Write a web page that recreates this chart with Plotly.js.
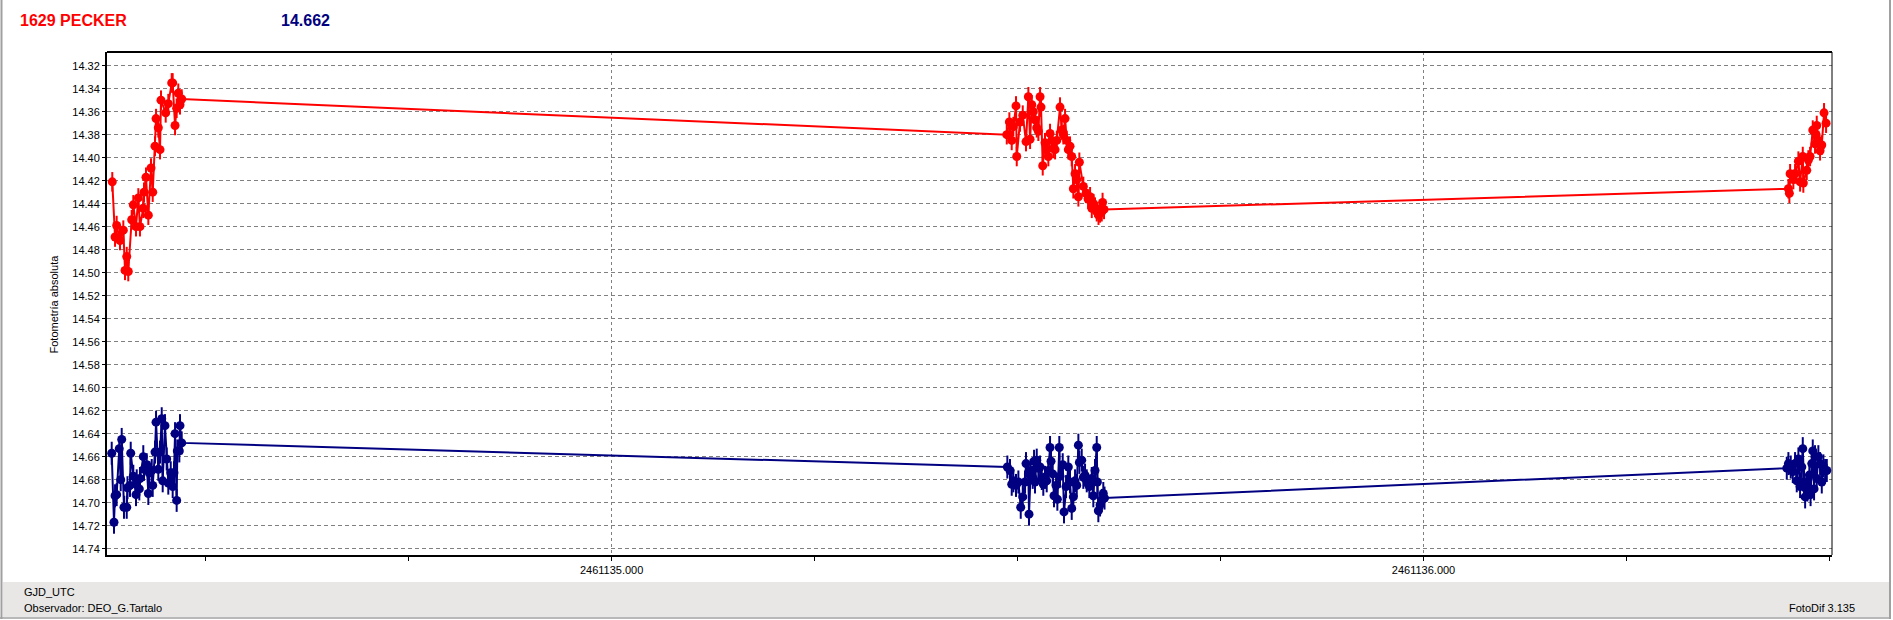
<!DOCTYPE html>
<html>
<head>
<meta charset="utf-8">
<script src="https://cdn.plot.ly/plotly-3.0.1.min.js"></script>
<style>
html,body{margin:0;padding:0;background:#fff;}
#chart{width:1893px;height:620px;}
</style>
</head>
<body>
<div id="chart"></div>
<script>
// Base Julian date (GJD_UTC); times below are day fractions after it
const JD0 = 2461134;

// Target star (red) - times and magnitudes
const redT = [
  0.3850,0.3884,0.3904,0.3945,0.3986,0.4007,0.4028,0.4047,0.4089,0.4109,
  0.4142,0.4171,0.4191,0.4232,0.4241,0.4265,0.4294,0.4327,0.4348,0.4376,
  0.4389,0.4417,0.4438,0.4450,0.4508,0.4540,0.4582,0.4594,0.4623,0.4643,
  0.4663,0.4684,0.4705,
  1.4867,1.4899,1.4928,1.4948,1.4981,1.4990,1.5030,1.5064,1.5104,1.5133,
  1.5154,1.5175,1.5194,1.5215,1.5236,1.5256,1.5277,1.5289,1.5310,1.5338,
  1.5359,1.5379,1.5400,1.5421,1.5441,1.5462,1.5483,1.5523,1.5544,1.5564,
  1.5585,1.5606,1.5625,1.5646,1.5667,1.5687,1.5708,1.5729,1.5749,1.5761,
  1.5810,1.5843,1.5868,1.5893,1.5914,1.5936,1.5954,1.5975,1.5997,1.6016,
  1.6037,1.6047,1.6065,
  2.4494,2.4506,2.4515,2.4555,2.4576,2.4617,2.4638,2.4671,2.4678,2.4720,
  2.4740,2.4761,2.4794,2.4822,2.4835,2.4843,2.4863,2.4884,2.4905,2.4933,
  2.4958
];
const redMag = [
  14.421,14.469,14.459,14.472,14.463,14.498,14.486,14.499,14.454,14.441,
  14.460,14.435,14.460,14.444,14.430,14.417,14.450,14.409,14.430,14.390,
  14.366,14.374,14.393,14.350,14.361,14.353,14.335,14.335,14.372,14.357,
  14.344,14.354,14.349,
  14.380,14.369,14.385,14.373,14.355,14.399,14.369,14.363,14.386,14.347,
  14.384,14.354,14.360,14.367,14.374,14.377,14.347,14.356,14.407,14.387,
  14.393,14.399,14.379,14.385,14.392,14.393,14.385,14.356,14.376,14.380,
  14.366,14.385,14.393,14.390,14.399,14.427,14.414,14.419,14.434,14.404,
  14.425,14.431,14.436,14.434,14.444,14.440,14.443,14.447,14.450,14.448,
  14.447,14.439,14.445,
  14.427,14.431,14.414,14.419,14.414,14.403,14.421,14.399,14.422,14.411,
  14.402,14.399,14.376,14.388,14.380,14.372,14.385,14.394,14.389,14.361,
  14.370
];

// Check star (navy) - times and magnitudes
const blueT = [
  0.3843,0.3871,0.3884,0.3904,0.3936,0.3954,0.3966,0.3994,0.4028,0.4037,
  0.4068,0.4077,0.4109,0.4142,0.4151,0.4183,0.4191,0.4232,0.4241,0.4274,
  0.4294,0.4306,0.4336,0.4348,0.4376,0.4389,0.4417,0.4438,0.4459,0.4471,
  0.4499,0.4520,0.4540,0.4570,0.4594,0.4610,0.4623,0.4643,0.4651,0.4676,
  0.4684,0.4705,
  1.4874,1.4907,1.4928,1.4948,1.4981,1.5010,1.5039,1.5064,1.5092,1.5104,
  1.5133,1.5141,1.5162,1.5187,1.5203,1.5215,1.5236,1.5256,1.5277,1.5298,
  1.5317,1.5338,1.5359,1.5379,1.5400,1.5412,1.5433,1.5449,1.5474,1.5490,
  1.5514,1.5523,1.5556,1.5572,1.5597,1.5625,1.5646,1.5667,1.5687,1.5708,
  1.5729,1.5749,1.5761,1.5790,1.5810,1.5831,1.5852,1.5884,1.5914,1.5933,
  1.5954,1.5975,1.5983,1.5995,1.6016,1.6037,1.6056,1.6071,
  2.4474,2.4494,2.4523,2.4548,2.4576,2.4597,2.4617,2.4638,2.4659,2.4671,
  2.4687,2.4700,2.4712,2.4728,2.4752,2.4767,2.4782,2.4794,2.4810,2.4822,
  2.4843,2.4863,2.4884,2.4905,2.4925,2.4946,2.4967
];
const blueMag = [
  14.657,14.717,14.694,14.693,14.653,14.680,14.645,14.704,14.704,14.687,
  14.685,14.657,14.677,14.693,14.681,14.688,14.679,14.660,14.671,14.667,
  14.692,14.674,14.672,14.685,14.656,14.630,14.671,14.656,14.627,14.681,
  14.633,14.662,14.683,14.674,14.686,14.674,14.640,14.698,14.655,14.655,
  14.633,14.648,
  14.669,14.672,14.684,14.681,14.685,14.682,14.704,14.695,14.682,14.666,
  14.675,14.710,14.672,14.678,14.664,14.682,14.663,14.670,14.669,14.679,
  14.684,14.678,14.681,14.672,14.652,14.664,14.675,14.694,14.685,14.697,
  14.652,14.677,14.667,14.708,14.686,14.669,14.682,14.705,14.695,14.681,
  14.685,14.650,14.665,14.663,14.678,14.676,14.681,14.686,14.679,14.694,
  14.672,14.652,14.682,14.707,14.702,14.698,14.692,14.696,
  14.670,14.666,14.669,14.673,14.666,14.681,14.662,14.686,14.669,14.653,
  14.682,14.695,14.688,14.689,14.676,14.693,14.666,14.655,14.688,14.660,
  14.679,14.660,14.666,14.682,14.668,14.672,14.672
];

const redErr = 0.0085;
const blueErr = 0.010;

const titleLeft = '1629 PECKER';
const titleRight = '14.662';
const yTitle = 'Fotometría absoluta';
const xName = 'GJD_UTC';
const observer = 'Observador: DEO_G.Tartalo';
const software = 'FotoDif 3.135';

const RED = '#ff0000', NAVY = '#000080';
const FONT = 'Liberation Sans, Arial, sans-serif';

function mkTrace(t, m, err, color) {
  return {
    type: 'scatter', mode: 'lines+markers',
    x: t.map(v => JD0 + v), y: m,
    line: {color: color, width: 2},
    marker: {color: color, size: 9, symbol: 'circle'},
    error_y: {type: 'constant', value: err, color: color, thickness: 2, width: 0},
    hoverinfo: 'skip', showlegend: false
  };
}

const data = [mkTrace(redT, redMag, redErr, RED), mkTrace(blueT, blueMag, blueErr, NAVY)];

// pixel -> paper helpers for decoration (plot area: x 107..1832, y 52..555)
const L = 107, R = 61, T = 52, B = 65, W = 1893 - L - R, H = 620 - T - B;
const px = x => (x - L) / W;
const py = y => (620 - B - y) / H;

const layout = {
  width: 1893, height: 620,
  margin: {l: L, r: R, t: T, b: B, pad: 0},
  paper_bgcolor: '#ffffff', plot_bgcolor: '#ffffff',
  font: {family: FONT, size: 11, color: '#000'},
  showlegend: false, hovermode: false,
  xaxis: {
    range: [2461134.3785, 2461136.5031],
    tick0: 2461135, dtick: 1, tickformat: '.3f',
    ticks: 'outside', ticklen: 4, tickcolor: '#000', tickwidth: 1,
    showline: true, linecolor: '#000', linewidth: 2,
    showgrid: true, gridcolor: '#808080', gridwidth: 1, griddash: '3px,3px',
    zeroline: false,
    tickfont: {family: FONT, size: 11, color: '#000'},
    minor: {dtick: 0.25, tick0: 2461135, ticks: 'outside', ticklen: 4, tickcolor: '#000', showgrid: false}
  },
  yaxis: {
    range: [14.7455, 14.3081],
    tick0: 14.32, dtick: 0.02, tickformat: '.2f',
    ticks: 'outside', ticklen: 3, tickcolor: '#000',
    showline: true, linecolor: '#000', linewidth: 2,
    showgrid: true, gridcolor: '#808080', gridwidth: 1, griddash: '4px,3px',
    zeroline: false,
    tickfont: {family: FONT, size: 11, color: '#000'}
  },
  shapes: [
    {type: 'rect', xref: 'paper', yref: 'paper', x0: px(3), x1: px(1889), y0: py(582), y1: py(617),
     fillcolor: '#e8e7e5', line: {width: 0}, layer: 'below'},
    {type: 'line', xref: 'paper', yref: 'paper', x0: px(1.5), x1: px(1.5), y0: py(0), y1: py(619),
     line: {color: '#a0a0a0', width: 2}},
    {type: 'line', xref: 'paper', yref: 'paper', x0: px(1890), x1: px(1890), y0: py(0), y1: py(619),
     line: {color: '#a0a0a0', width: 2}},
    {type: 'line', xref: 'paper', yref: 'paper', x0: px(0), x1: px(1891), y0: py(618), y1: py(618),
     line: {color: '#a0a0a0', width: 1.5}},
    {type: 'line', xref: 'paper', yref: 'paper', x0: 0, x1: 1, y0: 1, y1: 1,
     line: {color: '#000', width: 2}, layer: 'above'},
    {type: 'line', xref: 'paper', yref: 'paper', x0: 1, x1: 1, y0: 0, y1: 1,
     line: {color: '#000', width: 1}, layer: 'above'}
  ],
  annotations: [
    {xref: 'paper', yref: 'paper', x: px(18), y: py(20), xanchor: 'left', yanchor: 'middle',
     text: '<b>' + titleLeft + '</b>', showarrow: false, font: {family: FONT, size: 16, color: RED}},
    {xref: 'paper', yref: 'paper', x: px(279), y: py(20), xanchor: 'left', yanchor: 'middle',
     text: '<b>' + titleRight + '</b>', showarrow: false, font: {family: FONT, size: 16, color: NAVY}},
    {xref: 'paper', yref: 'paper', x: px(53), y: 0.5, xanchor: 'center', yanchor: 'middle', textangle: -90,
     text: yTitle, showarrow: false, font: {family: FONT, size: 11, color: '#000'}},
    {xref: 'paper', yref: 'paper', x: px(22), y: py(592), xanchor: 'left', yanchor: 'middle',
     text: xName, showarrow: false, font: {family: FONT, size: 11, color: '#000'}},
    {xref: 'paper', yref: 'paper', x: px(22), y: py(607.5), xanchor: 'left', yanchor: 'middle',
     text: observer, showarrow: false, font: {family: FONT, size: 11, color: '#000'}},
    {xref: 'paper', yref: 'paper', x: px(1857), y: py(607.5), xanchor: 'right', yanchor: 'middle',
     text: software, showarrow: false, font: {family: FONT, size: 11, color: '#000'}}
  ]
};

Plotly.newPlot('chart', data, layout, {displayModeBar: false, staticPlot: true});
</script>
</body>
</html>
